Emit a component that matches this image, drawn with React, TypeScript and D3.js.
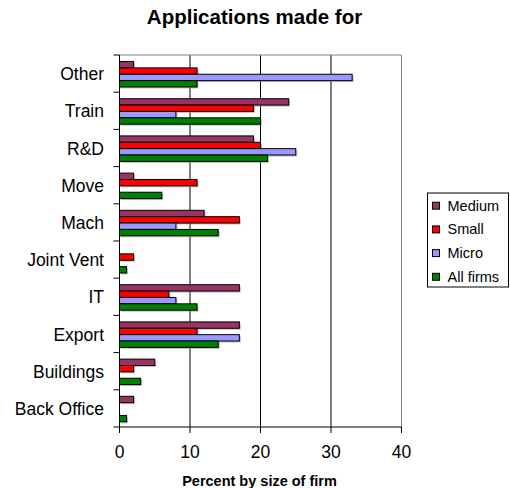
import React from "react";
import * as d3 from "d3";

const categories = ["Other", "Train", "R&D", "Move", "Mach", "Joint Vent", "IT", "Export", "Buildings", "Back Office"];
const seriesNames = ["Medium", "Small", "Micro", "All firms"];
const seriesColors = ["#993366", "#FF0000", "#9999FF", "#008000"];
const medium = [2, 24, 19, 2, 12, 0, 17, 17, 5, 2];
const small = [11, 19, 20, 11, 17, 2, 7, 11, 2, 0];
const micro = [33, 8, 25, 0, 8, 0, 8, 17, 0, 0];
const allFirms = [11, 20, 21, 6, 14, 1, 11, 14, 3, 1];
const xTicks = [0, 10, 20, 30, 40];

const W = 510, H = 488;
const L = 119.5, R = 401.5, T = 55, B = 427;
const FONT = "Arial, 'Liberation Sans', sans-serif";

export default function App() {
  const series = [medium, small, micro, allFirms];
  const x = d3.scaleLinear().domain([0, 40]).range([L, R]);
  const y = d3.scaleBand<string>().domain(categories).range([T, B]).padding(0);
  const bw = y.bandwidth();
  const inner = d3.scaleBand<string>().domain(seriesNames).range([bw * 0.175, bw * 0.86]).padding(0);

  const legendY0 = 205.7, legendStep = 23.7;

  return (
    <svg width={W} height={H} style={{ position: "absolute", left: 0, top: 0, background: "#fff" }} fontFamily={FONT}>
      <rect x={0} y={0} width={W} height={H} fill="#fff" />
      <text x={254.5} y={24} textAnchor="middle" fontSize={20.5} fontWeight="bold">Applications made for</text>

      {/* gridlines */}
      {xTicks.slice(1, -1).map((t) => (
        <line key={"g" + t} x1={x(t)} x2={x(t)} y1={T} y2={B} stroke="#000" strokeWidth={1} />
      ))}
      {/* plot border top/right */}
      <line x1={L} x2={R} y1={T} y2={T} stroke="#808080" strokeWidth={1} />
      <line x1={R} x2={R} y1={T} y2={B} stroke="#808080" strokeWidth={1} />

      {/* bars */}
      {categories.map((c, ci) => (
        <g key={c}>
          {series.map((s, si) => {
            const v = s[ci];
            if (v <= 0) return null;
            const by = (y(c) as number) + (inner(seriesNames[si]) as number);
            const h = inner.bandwidth();
            return (
              <g key={si}>
                <rect x={x(0) + 1.5} y={by + 1.5} width={x(v) - x(0)} height={h} fill="#999" opacity={0.6} />
                <rect x={x(0)} y={by} width={x(v) - x(0)} height={h} fill={seriesColors[si]} stroke="#000" strokeWidth={1} />
              </g>
            );
          })}
        </g>
      ))}

      {/* axes */}
      <line x1={L} x2={L} y1={T} y2={B} stroke="#000" strokeWidth={1} />
      <line x1={L - 6} x2={R} y1={B} y2={B} stroke="#000" strokeWidth={1} />
      {categories.map((c) => (
        <line key={"yt" + c} x1={L - 6} x2={L} y1={y(c) as number} y2={y(c) as number} stroke="#000" />
      ))}
      {xTicks.map((t) => (
        <g key={"xt" + t}>
          <line x1={x(t)} x2={x(t)} y1={B} y2={B + 6} stroke="#000" />
          <text x={x(t)} y={458} textAnchor="middle" fontSize={17.5}>{t}</text>
        </g>
      ))}
      {categories.map((c) => (
        <text key={"yl" + c} x={104} y={(y(c) as number) + bw / 2 + 6.5} textAnchor="end" fontSize={17.5}>{c}</text>
      ))}
      <text x={259.5} y={486} textAnchor="middle" fontSize={14.5} fontWeight="bold">Percent by size of firm</text>

      {/* legend */}
      <rect x={427.5} y={193} width={81} height={94} fill="#fff" stroke="#000" strokeWidth={1} />
      {seriesNames.map((n, i) => (
        <g key={n}>
          <rect x={432.5} y={legendY0 + i * legendStep - 3.5} width={7} height={7} fill={seriesColors[i]} stroke="#000" />
          <text x={447.5} y={legendY0 + i * legendStep + 5} fontSize={14.5}>{n}</text>
        </g>
      ))}
    </svg>
  );
}
